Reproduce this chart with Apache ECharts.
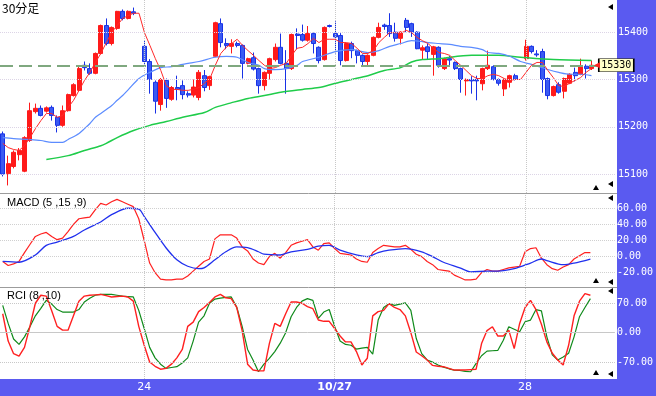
<!DOCTYPE html>
<html><head><meta charset="utf-8">
<script src="https://cdn.jsdelivr.net/npm/echarts@6/dist/echarts.min.js"></script>
<style>html,body{margin:0;padding:0;background:#5a5af0;}#c{width:656px;height:396px;}</style>
</head><body><div id="c"></div>
<script>
// ---------- data ----------
const slotCount = 113;                 // bar slots on the time axis (last 4 empty)
const dayStartBars = [26, 61, 96];
const dayLabels = ['24', '10/27', '28'];
const priceTicks = [15100, 15200, 15300, 15400];
const macdTicks = [60, 40, 20, 0, -20];
const rciTicks = [70, 0, -70];
const lastPrice = 15330;

// [open, close, low, high]; null = no bar in that slot
const candles = [
[15185,15100,15095,15190],[15101,15122,15076,15139],[15116,15146,15112,15150],[15141,15150,15129,15155],
[15106,15177,15104,15180],[15171,15234,15168,15251],[15232,15239,15228,15249],[15239,15224,15222,15245],
[15233,15240,15230,15243],[15241,15224,15213,15245],[15220,15203,15188,15224],[15203,15234,15200,15245],
[15234,15268,15232,15270],[15266,15289,15264,15292],[15277,15323,15275,15330],[15330,15325,15319,15338],
[15323,15313,15310,15334],[15313,15355,15311,15357],[15355,15414,15353,15416],[15414,15376,15372,15429],
[15376,15410,15372,15412],[15408,15444,15405,15445],[15444,15429,15425,15448],[15429,15444,15427,15446],
[15443,15440,15436,15452],null,
[15370,15338,15330,15383],[15338,15300,15270,15343],[15294,15254,15228,15298],[15247,15300,15234,15303],
[15298,15260,15240,15302],[15258,15283,15255,15286],[15283,15279,15256,15308],[15287,15268,15258,15298],
[15270,15267,15262,15275],[15267,15284,15262,15300],[15262,15315,15256,15320],[15308,15283,15275,15320],
[15287,15306,15278,15308],[15349,15420,15347,15422],[15418,15378,15368,15429],[15376,15372,15364,15387],
[15370,15376,15355,15385],[15376,15372,15368,15380],[15372,15334,15302,15374],[15334,15344,15332,15346],
[15346,15322,15319,15357],[15323,15287,15270,15325],[15287,15315,15277,15317],[15313,15344,15300,15346],
[15342,15368,15338,15376],[15368,15334,15332,15397],[15334,15323,15270,15362],[15323,15395,15320,15397],
[15396,15393,15364,15408],[15395,15383,15380,15416],[15383,15397,15380,15413],[15397,15376,15355,15399],
[15368,15340,15334,15370],[15342,15410,15340,15412],[15414,15412,15410,15416],[15397,15390,15355,15423],
[15393,15340,15330,15398],[15340,15376,15338,15378],[15376,15361,15345,15380],[15361,15351,15334,15363],
[15351,15338,15330,15353],[15338,15351,15330,15353],[15351,15389,15349,15391],[15389,15410,15387,15420],
[15415,15412,15405,15418],[15414,15397,15390,15440],[15400,15387,15380,15420],[15387,15400,15374,15402],
[15425,15410,15400,15430],[15418,15400,15390,15420],[15400,15365,15364,15402],[15362,15367,15342,15372],
[15369,15359,15342,15376],[15353,15369,15308,15371],[15368,15330,15325,15370],[15323,15344,15320,15346],
[15344,15341,15330,15350],[15336,15323,15320,15338],[15323,15300,15272,15325],[15297,15300,15266,15302],
[15300,15297,15270,15307],[15300,15297,15256,15308],[15291,15323,15277,15325],[15323,15330,15320,15361],
[15327,15300,15298,15330],[15300,15292,15287,15302],[15280,15300,15265,15302],[15294,15308,15283,15310],
[15308,15300,15298,15312],null,
[15344,15370,15340,15384],[15370,15359,15355,15372],[15354,15352,15348,15362],[15359,15300,15272,15365],
[15302,15266,15258,15304],[15266,15285,15264,15287],[15289,15273,15270,15294],[15275,15302,15260,15304],
[15292,15311,15290,15313],[15315,15308,15296,15325],[15311,15328,15309,15344],[15328,15323,15302,15332],
[15323,15330,15320,15340]
];

// short moving average (red), one value per slot
const maShort = [15165,15156,15152,15150,15160,15177,15196,15213,15228,15228,15220,15224,15241,15256,15277,15298,
15315,15336,15355,15378,15400,15414,15429,15435,15440,15440,15399,15372,15344,15319,15287,15279,15279,15277,15277,
15279,15283,15292,15302,15330,15355,15368,15376,15385,15372,15361,15351,15340,15330,15323,15325,15330,15334,15351,
15366,15368,15376,15387,15378,15385,15385,15385,15378,15378,15376,15366,15355,15355,15361,15378,15389,15399,15399,
15397,15404,15399,15389,15382,15376,15366,15357,15355,15351,15340,15330,15319,15308,15302,15302,15308,15311,15308,
15302,15298,15300,15300,15315,15330,15336,15336,15319,15304,15287,15285,15292,15298,15304,15315,15323];
// middle moving average (light blue), [slot, value]
const maMid = [[0,15177],[2,15175],[5,15173],[7,15171],[9,15167],[11,15167],[12,15173],[14,15186],[15,15196],
[16,15207],[17,15220],[18,15228],[20,15245],[21,15256],[22,15266],[23,15278],[25,15302],[27,15315],[29,15325],
[31,15327],[33,15332],[34,15334],[36,15338],[39,15347],[41,15349],[43,15347],[45,15336],[47,15330],[48,15323],
[50,15321],[52,15323],[54,15330],[55,15338],[58,15347],[61,15359],[64,15363],[67,15357],[69,15361],[71,15370],
[73,15376],[75,15382],[77,15380],[78,15378],[80,15376],[82,15374],[84,15370],[86,15368],[88,15363],[89,15357],
[91,15355],[93,15349],[95,15338],[97,15332],[99,15325],[100,15321],[102,15315],[104,15311],[106,15311],[108,15308]];
// long moving average (green), [slot, value]
const maLong = [[8,15131],[12,15139],[15,15150],[18,15160],[19,15165],[21,15177],[24,15192],[27,15203],[30,15211],
[33,15220],[37,15230],[39,15241],[42,15251],[45,15260],[48,15266],[51,15273],[55,15279],[58,15283],[61,15292],
[64,15300],[67,15308],[70,15319],[73,15325],[75,15337],[77,15342],[80,15344],[86,15351],[91,15351],[95,15347],
[101,15342],[108,15340]];

// MACD (red) one value per slot, signal (blue) [slot, value]
const macdLine = [-6,-11,-9,-6,5,15,25,28,30,25,21,23,31,40,47,48,49,58,66,64,68,71,68,65,62,47,20,-8,-20,-28,-29,-29,
-28,-28,-24,-18,-12,-6,-3,22,27,27,27,23,12,7,-3,-8,-10,0,4,-2,5,14,17,19,21,12,8,16,17,10,4,3,2,-3,-6,-7,5,10,14,13,
12,12,14,9,3,0,-6,-10,-16,-17,-18,-23,-26,-29,-29,-28,-20,-16,-18,-18,-16,-14,-13,-12,6,10,11,-2,-10,-15,-17,-13,
-10,-3,1,5,5];
const macdSignal = [[0,-6],[3,-7],[6,2],[8,14],[10,18],[13,25],[15,33],[18,43],[20,52],[23,60],[25,59],[26,50],[28,30],
[30,11],[32,-4],[34,-12],[36,-15],[37,-14],[39,-4],[41,6],[43,12],[45,11],[47,6],[48,3],[51,2],[53,6],[56,9],[58,13],
[60,14],[62,8],[65,2],[67,0],[69,5],[71,8],[74,10],[77,6],[79,0],[81,-7],[84,-14],[86,-19],[89,-18],[91,-18],[94,-15],
[97,-8],[99,-3],[100,-5],[103,-10],[105,-8],[108,-3]];

// RCI 8 (red) and RCI 10 (green), one value per slot
const rciShort = [45,-20,-50,-56,-35,15,70,89,87,52,15,6,6,40,75,87,89,90,91,88,85,86,87,85,75,15,-30,-70,-80,-87,-85,
-75,-60,-40,15,25,50,60,72,85,91,83,81,60,5,-75,-89,-91,-91,-26,22,15,45,73,73,70,62,57,30,27,27,10,-8,-22,-22,-45,-77,
-61,40,50,53,69,60,55,40,0,-46,-55,-65,-78,-80,-81,-85,-89,-89,-89,-88,-87,-26,5,14,-8,-8,6,-38,22,60,77,55,20,-22,-49,
-65,-77,-30,40,75,93,89];
const rciLong = [65,22,-15,-28,-10,14,40,58,77,68,55,49,49,49,55,73,82,89,91,91,91,89,87,86,85,53,10,-35,-60,-75,-85,-83,
-81,-72,-60,-20,25,40,70,80,82,84,85,61,15,-40,-65,-93,-75,-61,-45,-25,0,38,60,75,81,77,34,49,55,15,-20,-28,-30,-39,-37,
-35,-51,30,60,69,65,68,71,53,-14,-50,-65,-70,-77,-82,-86,-89,-90,-92,-93,-73,-55,-44,-43,-42,-18,14,8,2,26,30,55,52,-10,
-53,-65,-58,-49,-10,38,60,81];

// ---------- chart ----------
const categories = Array.from({length: slotCount}, (_, i) => String(i));
const candleData = candles.map((c, i) => c ? [i, c[0], c[1], c[2], c[3]] : null).filter(Boolean);
const isDay = (i) => dayStartBars.indexOf(i) >= 0;

const xAx = (gi, withLabels) => ({
  type: 'category', gridIndex: gi, data: categories, boundaryGap: true,
  axisLine: {show: false}, splitLine: {show: false},
  axisTick: withLabels ? {show: true, interval: (i) => isDay(i), alignWithLabel: true, length: 4, lineStyle: {color: '#ffffff'}} : {show: false},
  axisLabel: withLabels ? {
    show: true, interval: (i) => isDay(i), margin: 3, color: '#ffffff', fontSize: 11, fontFamily: 'DejaVu Sans',
    formatter: (v, i) => { const k = dayStartBars.indexOf(i); if (k < 0) return ''; const t = dayLabels[k]; return t.indexOf('/') >= 0 ? '{b|' + t + '}' : t; },
    rich: {b: {fontWeight: 'bold', color: '#ffffff', fontSize: 11, fontFamily: 'DejaVu Sans'}}
  } : {show: false}
});
const yAx = (gi, min, max, ticks, fmt) => ({
  type: 'value', gridIndex: gi, position: 'right', min: min, max: max,
  axisLine: {show: false}, axisTick: {show: false}, splitLine: {show: false},
  axisLabel: {show: true, customValues: ticks, formatter: fmt, color: '#ffffff', fontFamily: 'DejaVu Sans Mono', fontSize: 10, margin: 2}
});
const dayLineItems = () => dayStartBars.map(i => ({xAxis: i, lineStyle: {type: 'dotted', color: '#c8c8c8', width: 1}}));
const helper = (gi, items) => ({
  type: 'line', xAxisIndex: gi, yAxisIndex: gi, data: [], z: 1, silent: true,
  markLine: {silent: true, symbol: ['none', 'none'], animation: false, label: {show: false}, data: items}
});
const line = (gi, data, color, width, smooth, z) => ({
  type: 'line', xAxisIndex: gi, yAxisIndex: gi, data: data, showSymbol: false, symbol: 'none',
  smooth: smooth, z: z || 4, silent: true, lineStyle: {color: color, width: width}
});

const tri = (pts) => ({type: 'polygon', shape: {points: pts}, style: {fill: '#000'}, z: 100, silent: true});
const leftTri = (x, y) => tri([[x - 3, y], [x + 2, y - 3], [x + 2, y + 3]]);
const upTri = (x, y) => tri([[x - 3, y + 2], [x + 3, y + 2], [x, y - 3]]);

const option = {
  backgroundColor: '#5a5af0',
  animation: false,
  grid: [
    {left: 0, top: 0, width: 616, height: 193},
    {left: 0, top: 194, width: 616, height: 92},
    {left: 0, top: 288, width: 616, height: 91}
  ],
  xAxis: [xAx(0, false), xAx(1, false), xAx(2, true)],
  yAxis: [
    yAx(0, 15060, 15468, priceTicks, v => String(v)),
    yAx(1, -36.5, 77.7, macdTicks, v => v.toFixed(2)),
    yAx(2, -110.3, 106.3, rciTicks, v => v.toFixed(2))
  ],
  graphic: [
    {type: 'rect', shape: {x: 0, y: 0, width: 617, height: 379}, style: {fill: '#ffffff'}, z: -100, silent: true},
    {type: 'line', shape: {x1: 0, y1: 193.5, x2: 617, y2: 193.5}, style: {stroke: '#9c9c9c', lineWidth: 1}, z: 100, silent: true},
    {type: 'line', shape: {x1: 0, y1: 287.5, x2: 617, y2: 287.5}, style: {stroke: '#9c9c9c', lineWidth: 1}, z: 100, silent: true},
    {type: 'text', left: 2, top: 2, style: {text: '30分足', fill: '#000', font: '12px "Noto Sans CJK JP"'}, z: 100, silent: true},
    {type: 'text', left: 7, top: 197, style: {text: 'MACD (5 ,15 ,9)', fill: '#000', font: '11px "Liberation Sans"'}, z: 100, silent: true},
    {type: 'text', left: 7, top: 290, style: {text: 'RCI (8 ,10)', fill: '#000', font: '11px "Liberation Sans"'}, z: 100, silent: true},
    leftTri(611, 7), leftTri(611, 184), upTri(596, 188),
    leftTri(611, 198), leftTri(611, 282), upTri(596, 281),
    leftTri(611, 291), leftTri(611, 374), upTri(596, 373)
  ],
  series: [
    helper(0, priceTicks.map(v => ({yAxis: v, lineStyle: {type: 'dotted', color: '#dcd4e6', width: 1}}))
      .concat([{yAxis: lastPrice, lineStyle: {type: [13, 6], color: '#7fa87f', width: 2}}])
      .concat(dayLineItems())),
    {
      type: 'candlestick', xAxisIndex: 0, yAxisIndex: 0, data: candleData, encode: {x: 0, y: [1, 2, 3, 4]},
      barWidth: 4.5, z: 3, silent: true,
      itemStyle: {color: '#ff1a1a', color0: '#3a5af2', borderColor: '#ff1a1a', borderColor0: '#1832e6', borderWidth: 1},
      markPoint: {silent: true, animation: false, data: [
        {coord: [112, lastPrice], symbol: 'rect', symbolSize: [35, 13], symbolOffset: [3, 0],
         itemStyle: {color: '#ffffc8', borderColor: '#000000', borderWidth: 1},
         label: {show: true, position: 'inside', formatter: String(lastPrice), color: '#000', fontFamily: 'DejaVu Sans Mono', fontSize: 10}},
        {coord: [109, lastPrice], symbol: 'triangle', symbolRotate: 90, symbolSize: [6, 6],
         itemStyle: {color: '#ff2020'}, label: {show: false}}
      ]}
    },
    line(0, maLong, '#1fcc4a', 1.5, 0.3),
    line(0, maMid, '#5c8cff', 1.2, 0.3),
    line(0, maShort, '#ff2a2a', 1, false),

    helper(1, macdTicks.map(v => ({yAxis: v, lineStyle: {type: 'dotted', color: '#d0d0d0', width: 1}})).concat(dayLineItems())),
    line(1, macdLine, '#ff2020', 1.2, false),
    line(1, macdSignal, '#2030ee', 1.3, 0.3),

    helper(2, rciTicks.map(v => ({yAxis: v, lineStyle: {type: v === 0 ? 'solid' : 'dotted', color: '#c8c8c8', width: 1}})).concat(dayLineItems())),
    line(2, rciLong, '#0f8a1a', 1.2, false),
    line(2, rciShort, '#ff2020', 1.4, false)
  ]
};
const chart = echarts.init(document.getElementById('c'), null, {width: 656, height: 396});
chart.setOption(option);
</script>
</body></html>
